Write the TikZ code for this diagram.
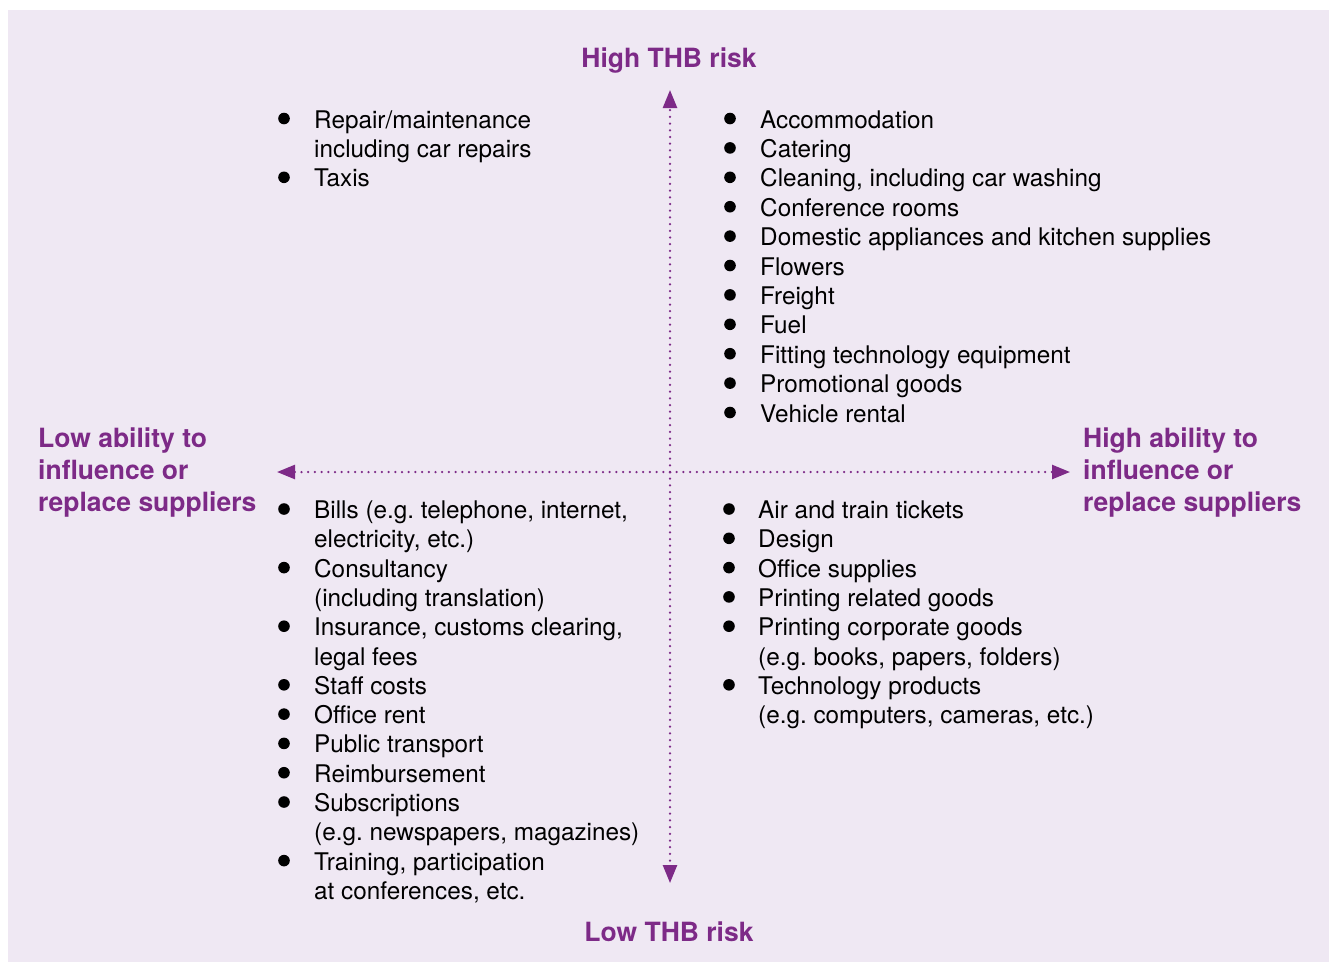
\documentclass[tikz,border=0pt]{standalone}
\usepackage{fontspec}
\setmainfont{TeX Gyre Heros}
\usetikzlibrary{arrows.meta}
\definecolor{bgc}{HTML}{EFE8F3}
\definecolor{thb}{HTML}{7D2A87}
\frenchspacing
\begin{document}
\begin{tikzpicture}[x=1pt,y=-1pt,
  itm/.style={anchor=base west, inner sep=0pt, font=\fontsize{24.3}{29.4}\selectfont\frenchspacing, text=black},
  lbl/.style={inner sep=0pt, font=\fontsize{26.5}{31.7}\selectfont\bfseries, text=thb},
  axis/.style={thb, line width=2.5pt, line cap=round, dash pattern=on 0pt off 6.7pt, -{Triangle[length=18pt,width=14pt]}},
  blt/.style={fill=black}]
\fill[white] (0,0) rectangle (1331,962);
\fill[bgc] (8,10) rectangle (1329,962);
% axes
\coordinate (c) at (670,472);
\coordinate (top) at (670,90);
\coordinate (bot) at (670,883);
\coordinate (lft) at (277,472);
\coordinate (rgt) at (1070,472);
\draw[axis] (c) -- (top);
\draw[axis] (c) -- (bot);
\draw[axis] (c) -- (lft);
\draw[axis] (c) -- (rgt);
% labels
\node[lbl, anchor=base] (hi) at (669,67.5) {High THB risk};
\node[lbl, anchor=base] (lo) at (669,941) {Low THB risk};
\node[lbl, anchor=base west, align=left] (la) at (38,511) {Low ability to\\influence or\\replace suppliers};
\node[lbl, anchor=base west, align=left] (ha) at (1083,511) {High ability to\\influence or\\replace suppliers};
% upper left
\foreach \t [count=\i from 0] in {Repair/maintenance, including car repairs, Taxis}
  \node[itm] (ul-\i) at (314,{128+29.4*\i}) {\t};
\foreach \i in {0,2} \fill[blt] (ul-\i.base west) ++(-30,-9.5) circle (5.8);
% upper right
\foreach \t [count=\i from 0] in {Accommodation, Catering, {Cleaning, including car washing}, Conference rooms, Domestic appliances and kitchen supplies, Flowers, Freight, Fuel, Fitting technology equipment, Promotional goods, Vehicle rental}
  \node[itm] (ur-\i) at (760,{128+29.4*\i}) {\t};
\foreach \i in {0,...,10} \fill[blt] (ur-\i.base west) ++(-30,-9.5) circle (5.8);
% lower left
\foreach \t [count=\i from 0] in {{Bills (e.g. telephone, internet,}, {electricity, etc.)}, Consultancy, (including translation), {Insurance, customs clearing,}, legal fees, Staff costs, Office rent, Public transport, Reimbursement, Subscriptions, {(e.g. newspapers, magazines)}, {Training, participation}, {at conferences, etc.}}
  \node[itm] (ll-\i) at (314,{518.5+29.3*\i}) {\t};
\foreach \i in {0,2,4,6,7,8,9,10,12} \fill[blt] (ll-\i.base west) ++(-30,-9.5) circle (5.8);
% lower right
\foreach \t [count=\i from 0] in {Air and train tickets, Design, Office supplies, Printing related goods, Printing corporate goods, {(e.g. books, papers, folders)}, Technology products, {(e.g. computers, cameras, etc.)}}
  \node[itm] (lr-\i) at (758,{518.5+29.3*\i}) {\t};
\foreach \i in {0,1,2,3,4,6} \fill[blt] (lr-\i.base west) ++(-29,-9.5) circle (5.8);
\end{tikzpicture}
\end{document}
